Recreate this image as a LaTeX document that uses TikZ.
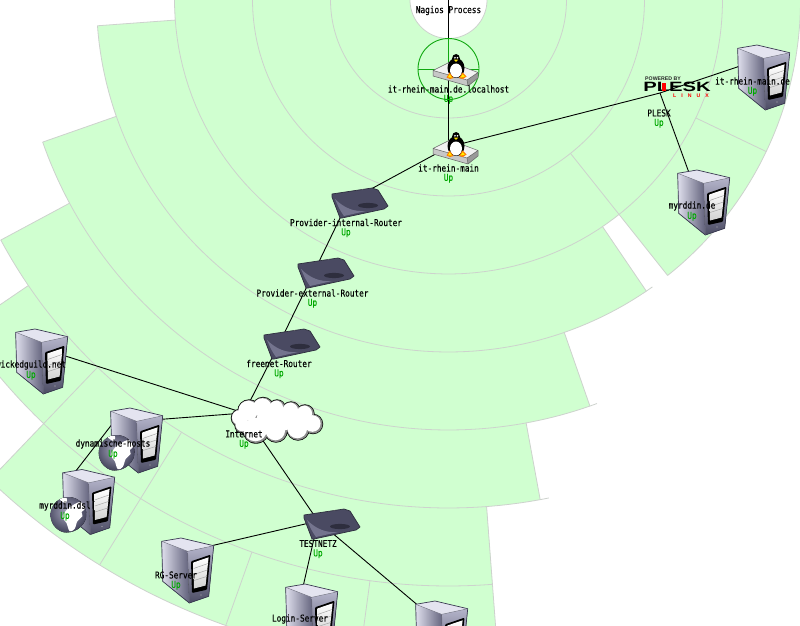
\documentclass[tikz,border=0pt]{standalone}
\usepackage{fontspec}
\setsansfont{Liberation Sans}
\newfontfamily\gdfont[FakeStretch=0.82,RawFeature={embolden=0.25}]{DejaVu Sans Mono}
\definecolor{mint}{HTML}{D0FFD0}
\definecolor{ring}{HTML}{CDD2CD}
\definecolor{upgreen}{HTML}{00A800}
\definecolor{hilite}{HTML}{10A810}
\definecolor{srvline}{HTML}{3A3A52}
\definecolor{srvtop}{HTML}{E4E4F0}
\definecolor{srvlight}{HTML}{DEDEEC}
\definecolor{srvmid}{HTML}{B4B4CA}
\definecolor{srvdark}{HTML}{60607A}
\definecolor{srvdeep}{HTML}{4C4C64}
\definecolor{rtbody}{HTML}{4A4A62}
\definecolor{rtedge}{HTML}{2E2E3E}
\definecolor{rtlip}{HTML}{74748E}
\definecolor{globein}{HTML}{A6A6BC}
\definecolor{globeout}{HTML}{42425A}
\tikzset{
  hostpt/.style={inner sep=0pt,minimum size=0pt,outer sep=0pt},
  link/.style={draw=black,line width=0.9pt},
  ringline/.style={draw=ring,line width=0.8pt},
  hosttext/.style={font=\gdfont\fontsize{9.45}{10}\selectfont,text=black,inner sep=0pt},
  uptext/.style={font=\gdfont\fontsize{9.45}{10}\selectfont,text=upgreen,inner sep=0pt},
  pics/servericon/.style={code={
    \fill[left color=srvlight,right color=srvdark] (0.7,3.3) -- (26.7,13.3) -- (28.3,65) -- (1.7,43.3) -- cycle;
    \fill[top color=srvmid,bottom color=srvdeep] (26.7,13.3) -- (52.7,7.7) -- (47.7,58.3) -- (28.3,65) -- cycle;
    \fill[srvtop] (0.7,3.3) -- (20,0) -- (52.7,7.7) -- (26.7,13.3) -- cycle;
    \draw[srvline,line width=0.7pt,line join=round] (0.7,3.3) -- (20,0) -- (52.7,7.7) -- (47.7,58.3) -- (28.3,65) -- (1.7,43.3) -- cycle;
    \draw[srvline!70!white,line width=0.4pt] (0.7,3.3) -- (26.7,13.3) -- (52.7,7.7) (26.7,13.3) -- (28.3,65);
    \fill[black,rounded corners=1pt] (30,23.3) -- (49.5,16.7) -- (46,51.7) -- (31,55) -- cycle;
    \fill[top color=white,bottom color=black!18] (32.3,24.5) -- (47.6,19.3) -- (44.6,47.5) -- (33,50.5) -- cycle;
    \draw[black!35,line width=0.5pt] (32.6,30.5) -- (47,25.5) (32.8,36.5) -- (46.3,32) (33,42.5) -- (45.6,38.5);
    \fill[black!30] (40,57) circle (0.7);
  }},
  pics/routericon/.style={code={
    \fill[rtbody] (0,7) -- (40,1) -- (46,3) -- (56,19) -- (52,22) -- (10,31) -- (8,31) -- (0,10) -- cycle;
    \fill[rtlip] (3,12) .. controls (8,24) and (10,26) .. (12,29) -- (34,24) .. controls (22,25) and (12,21) .. (3,12) -- cycle;
    \draw[rtedge,line width=0.7pt,line join=round] (0,7) -- (40,1) -- (46,3) -- (56,19) -- (52,22) -- (10,31) -- (8,31) -- (0,10) -- cycle;
    \fill[rtedge] (36,18.5) ellipse (10 and 2.6);
    \fill[black!45] (30,2.5) circle (0.5);
  }},
  pics/tuxicon/.style={code={
    \fill[black!5] (0,16.5) -- (17,8) -- (45,18.5) -- (34,26) -- cycle;
    \fill[black!22] (0,16.5) -- (34,26) -- (35,32) -- (0,22) -- cycle;
    \fill[black!40] (34,26) -- (45,18.5) -- (45,24) -- (35,32) -- cycle;
    \draw[black!60,line width=0.5pt,line join=round] (0,16.5) -- (17,8) -- (45,18.5) -- (45,24) -- (35,32) -- (0,22) -- cycle (0,16.5) -- (34,26) -- (45,18.5) (34,26) -- (35,32);
    \fill[black] (23,14) ellipse (8.5 and 10);
    \fill[black] (23,4.8) ellipse (4 and 4.8);
    \fill[white] (23,16.5) ellipse (6 and 7);
    \fill[white] (21.9,3.8) circle (0.9) (24.4,3.8) circle (0.9);
    \fill[yellow!85!orange] (20.8,5.6) -- (25.4,5.6) -- (23,7.8) -- cycle;
    \fill[orange] (13.5,23.5) -- (16.5,18.5) -- (20.5,24) -- (17,25) -- cycle (26,24) -- (29.5,18.5) -- (33.5,22.5) -- (30,25) -- cycle;
    \fill[yellow] (15,23.2) -- (16.7,20.3) -- (18.8,23.6) -- cycle (27.5,23.6) -- (29.6,20.3) -- (32,22.5) -- cycle;
  }},
  pics/globeicon/.style={code={
    \fill[inner color=globein,outer color=globeout] (-2,-3) circle (20.5);
    \fill[white] (0,0) circle (0pt);
    \begin{scope}
      \clip (0,0) circle (18);
      \fill[white] plot[smooth cycle,tension=0.6] coordinates {(-2,-5) (3,-9) (12,-13) (17,-7) (13,-3) (14,1) (9,6) (6,14) (1,16) (-2,8) (-6,2)};
      \fill[white] plot[smooth cycle,tension=0.6] coordinates {(-9,-16) (-2,-17) (-3,-12)};
    \end{scope}
  }}
}
\newcommand{\sect}[3]{\fill[mint] (0,0) -- plot[domain=#1:#2,samples=80] (\x:#3) -- cycle;}
\newcommand{\ringarc}[3]{\draw[ringline] plot[domain=#2:#3,samples=90] (\x:#1);}
\newcommand{\spoke}[3]{\draw[ringline] (#1:#2) -- (#1:#3);}
\newcommand{\hostlabel}[4]{%
  \node[hosttext] (#1-name) at (#2,#3) {#4};
  \node[uptext] (#1-state) at (#2,#3+10.3) {Up};}
\begin{document}
\begin{tikzpicture}[x=1pt,y=-1pt]
\clip (0,0) rectangle (800,626);
\fill[white] (0,0) rectangle (800,626);
% --- status rings
\begin{scope}[shift={(448.5,0)}]
  \sect{85.7}{133.7}{664}
  \sect{85.7}{145.8}{586}
  \sect{79.6}{151.8}{508}
  \sect{70.8}{160.7}{430}
  \sect{55.8}{175.8}{352}
  \sect{-8}{51.5}{352}
  \sect{-8}{188}{274}
  \fill[white] (0,0) circle (38.5);
  \ringarc{38.5}{-5}{185}
  \ringarc{118}{-5}{185}
  \ringarc{196}{-5}{185}
  \ringarc{274}{-5}{185}
  \ringarc{352}{-5}{51.5}
  \ringarc{352}{54.6}{175.8}
  \ringarc{430}{69.8}{160.7}
  \ringarc{508}{78.6}{151.8}
  \ringarc{586}{85.7}{145.8}
  \ringarc{664}{85.7}{133.7}
  \spoke{25.5}{274}{352}
  \spoke{51.5}{196}{352}
  \spoke{55.8}{274}{352}
  \spoke{70.8}{352}{430}
  \spoke{79.6}{430}{508}
  \spoke{85.7}{508}{664}
  \spoke{175.8}{274}{352}
  \spoke{160.7}{352}{430}
  \spoke{151.8}{430}{508}
  \spoke{145.8}{508}{586}
  \spoke{133.7}{508}{664}
  \spoke{121.7}{508}{664}
  \spoke{109.6}{586}{664}
  \spoke{97.7}{586}{664}
\end{scope}
% --- host anchor points
\node[hostpt] (nagios) at (448.5,0) {};
\node[hostpt] (localhost) at (448.5,69) {};
\node[hostpt] (itrm) at (448.5,147) {};
\node[hostpt] (plesk) at (660,93) {};
\node[hostpt] (itrmde) at (752,62) {};
\node[hostpt] (myrddinde) at (692,181) {};
\node[hostpt] (provint) at (348,201.5) {};
\node[hostpt] (provext) at (314,272) {};
\node[hostpt] (freenet) at (279.5,343) {};
\node[hostpt] (internet) at (244,413) {};
\node[hostpt] (wicked) at (31,345) {};
\node[hostpt] (dyn) at (113,423) {};
\node[hostpt] (dsl) at (65,485) {};
\node[hostpt] (testnetz) at (318,521) {};
\node[hostpt] (rg) at (176,554) {};
\node[hostpt] (login) at (300,600) {};
\node[hostpt] (lastsrv) at (430,615.5) {};
% --- links
\draw[link] (nagios) -- (localhost);
\draw[link] (localhost) -- (itrm);
\draw[link] (itrm) -- (plesk);
\draw[link] (plesk) -- (itrmde);
\draw[link] (plesk) -- (myrddinde);
\draw[link] (itrm) -- (provint);
\draw[link] (provint) -- (provext);
\draw[link] (provext) -- (freenet);
\draw[link] (freenet) -- (internet);
\draw[link] (internet) -- (wicked);
\draw[link] (internet) -- (dyn);
\draw[link] (dyn) -- (dsl);
\draw[link] (internet) -- (testnetz);
\draw[link] (testnetz) -- (rg);
\draw[link] (testnetz) -- (login);
\draw[link] (testnetz) -- (lastsrv);
% --- highlight of the selected host
\draw[hilite,line width=0.9pt] (448.5,69) circle (30.5);
\draw[hilite,line width=0.9pt] (418,69) -- (479,69) (448.5,38.5) -- (448.5,62);
% --- icons
\pic at (433,54) {tuxicon};
\pic at (433,132) {tuxicon};
\pic at (737,45) {servericon};
\pic at (677,170) {servericon};
\pic at (15,329) {servericon};
\pic at (110,408) {servericon};
\pic at (62,469.5) {servericon};
\pic at (161,538) {servericon};
\pic at (285,584) {servericon};
\pic at (415,601) {servericon};
\begin{scope}
  \clip (116.7,453) circle (18);
  \pic at (116.7,453) {globeicon};
\end{scope}
\begin{scope}
  \clip (68.5,515) circle (18);
  \pic at (68.5,515) {globeicon};
\end{scope}
\pic at (332,187) {routericon};
\pic at (298,257) {routericon};
\pic at (264,328) {routericon};
\pic at (304,508) {routericon};
% --- cloud
\def\cloudbumps{240/418/8.5,249/411/11,263/408/10.5,277/408/8,291/411/9,305/414/9,313/424/9.5,298/429/11,276/431/11,256/430/13,270/420/14,243/425/8,285/420/12,300/420/10}
\foreach \cx/\cy/\cr in \cloudbumps {\fill[black] (\cx,\cy) circle (\cr+0.7);}
\foreach \cx/\cy/\cr in \cloudbumps {\fill[black!45] (\cx,\cy) circle (\cr);}
\foreach \cx/\cy/\cr in \cloudbumps {\fill[white] (\cx-0.7,\cy-0.5) circle (\cr-1.2);}
% --- Plesk logo
\node[inner sep=0pt,font=\sffamily\bfseries\fontsize{5.2}{6}\selectfont,text=black!85] (pleskpowered) at (663,78.5) {POWERED BY};
\node[inner sep=0pt,xscale=1.5,font=\sffamily\bfseries\fontsize{13.5}{14}\selectfont,text=black] (pleskword) at (677,87) {PLESK};
\fill[red] (662,83) -- (666,83) -- (666,90.5) -- (662,90.5) -- cycle;
\node[inner sep=0pt,font=\sffamily\bfseries\fontsize{5.2}{6}\selectfont,text=red] (pleskos) at (691,95.3) {L\hspace{5pt}I\hspace{5pt}N\hspace{5pt}U\hspace{5pt}X};
% --- labels
\node[hosttext] (nagios-name) at (448.5,10.5) {Nagios Process};
\hostlabel{localhost}{448.5}{89}{it-rhein-main.de.localhost}
\hostlabel{itrm}{448.5}{168}{it-rhein-main}
\hostlabel{plesk}{659}{113}{PLESK}
\hostlabel{itrmde}{752.5}{81}{it-rhein-main.de}
\hostlabel{myrddinde}{692}{206}{myrddin.de}
\hostlabel{provint}{346}{222.5}{Provider-internal-Router}
\hostlabel{provext}{312.5}{293}{Provider-external-Router}
\hostlabel{freenet}{279}{363.5}{freenet-Router}
\hostlabel{internet}{244}{434}{Internet}
\hostlabel{wicked}{31}{365}{wickedguild.net}
\hostlabel{dyn}{113}{444}{dynamische-hosts}
\hostlabel{dsl}{65}{506}{myrddin.dsl}
\hostlabel{testnetz}{318}{543.5}{TESTNETZ}
\hostlabel{rg}{176}{575}{RG-Server}
\node[hosttext] (login-name) at (300,619) {Login-Server};
\end{tikzpicture}
\end{document}
